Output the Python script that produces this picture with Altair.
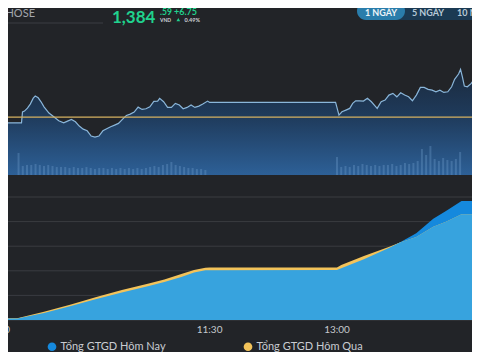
import altair as alt
import pandas as pd
import numpy as np

# ---------------- data ----------------
# VN-Index intraday, x = minutes after 09:00
price_min = [0, 17.1, 17.8, 19.2, 21.3, 23.3, 25.4, 26.8, 28.9, 30.9, 33.0, 36.5, 39.9, 43.4,
             46.9, 49.6, 52.4, 55.2, 57.9, 60.7, 63.5, 66.3, 69.0, 71.8, 74.6, 77.3, 80.1, 82.9,
             85.6, 88.4, 91.2, 93.9, 96.7, 99.5, 102.3, 105.0, 107.8, 110.6, 113.3, 114.7, 117.5,
             120.3, 123.0, 125.8, 128.6, 131.3, 134.1, 136.9, 139.6, 142.4, 145.2, 148.6, 150.0,
             239.0, 241.4, 243.5, 246.3, 249.0, 251.1, 253.2, 255.9, 258.7, 261.5, 264.3, 267.0,
             268.4, 271.2, 274.0, 276.7, 279.5, 282.3, 285.0, 287.8, 290.6, 293.3, 296.1, 298.9,
             301.6, 304.4, 307.2, 309.9, 312.7, 315.5, 318.3, 321.0, 323.1, 325.9, 327.3, 328.6,
             330.0, 332.1, 334.9, 337.7, 345.0]
price_val = [1376.92, 1376.92, 1378.69, 1378.81, 1379.29, 1379.94, 1380.90, 1381.23, 1380.95,
             1380.31, 1379.50, 1378.49, 1377.89, 1377.24, 1376.92, 1377.19, 1377.47, 1377.08,
             1376.39, 1375.90, 1375.63, 1374.78, 1374.61, 1374.78, 1375.63, 1375.95, 1376.28,
             1376.55, 1376.82, 1377.47, 1378.11, 1378.32, 1378.65, 1379.45, 1379.08, 1379.18,
             1379.50, 1380.37, 1380.42, 1380.86, 1380.31, 1379.40, 1379.40, 1380.05, 1379.78,
             1379.18, 1379.40, 1379.78, 1379.40, 1379.61, 1379.94, 1380.42, 1380.21,
             1380.21, 1378.16, 1378.69, 1378.97, 1379.24, 1380.05, 1380.47, 1380.47, 1380.42,
             1380.86, 1380.31, 1379.61, 1379.24, 1380.31, 1380.58, 1381.39, 1381.66, 1381.11,
             1381.76, 1381.39, 1381.11, 1380.47, 1381.39, 1382.63, 1382.63, 1382.31, 1382.19,
             1381.92, 1382.19, 1381.82, 1381.92, 1382.73, 1383.92, 1384.78, 1385.53, 1384.34,
             1382.84, 1382.73, 1383.28, 1384.24, 1384.59]
ref_price = [1377.84]

# traded volume, 3-minute buckets
vol_min = list(range(15, 150, 3)) + list(range(240, 330, 3))
vol_val = [22, 9, 10, 10, 11, 10, 9, 10, 9, 8, 8, 8, 7, 8, 7, 7, 8, 7, 6, 7, 7, 6, 7, 6, 7,
           6, 7, 6, 7, 6, 7, 8, 9, 8, 10, 11, 13, 10, 9, 8, 7, 7, 6, 6, 5,
           18, 8, 9, 8, 10, 9, 11, 10, 9, 10, 9, 10, 10, 11, 9, 10, 12, 11, 12, 14,
           26, 20, 29, 16, 14, 17, 15, 14, 16, 23]

# cumulative traded value (tỷ đồng)
cum_min = [0, 14, 33, 52, 70, 88, 107, 118, 130, 139, 147, 150, 240, 243, 259, 277, 284, 296,
           308, 317, 328, 345]
today = [300, 300, 1420, 2850, 4270, 5590, 6910, 7720, 8740, 9650, 10100, 10120, 10150, 10500,
         12340, 14700, 15710, 17620, 20570, 22150, 24190, 24190]
yesterday = [340, 350, 1690, 3150, 4680, 6100, 7420, 8230, 9350, 10160, 10630, 10650, 10650,
             11200, 13010, 14900, 15710, 16870, 18960, 19980, 21500, 21500]
grid_vals = [0, 5000, 10000, 15000, 20000, 25000]
series_names = ["Tổng GTGD Hôm Nay", "Tổng GTGD Hôm Qua"]

tick_min = [0, 150, 240]
tick_lab = ["09:00", "11:30", "13:00"]

index_name = ["VNINDEX / HOSE"]
price_main = ["1,384"]
price_dec = [".59"]
unit = ["VND"]
change = ["+6.75"]
pct = ["0.49%"]
buttons = ["1 NGÀY", "5 NGÀY", "10 NGÀY"]

# ---------------- styling ----------------
BG = "#222428"
GREEN = "#20d28e"
FONT = "Lato"
LIGHT_BLUE = "#37a3de"
DARK_BLUE = "#1589dd"
YELLOW = "#f3c35a"

x_scale = alt.Scale(domain=[0, 345], range=[-15.7, 482.6])
price_scale = alt.Scale(domain=[1368.5, 1390], range=[167, 33.7], zero=False)
vol_scale = alt.Scale(domain=[0, 40], range=[167, 127])
val_scale = alt.Scale(domain=[0, 25000], range=[312, 189])

X = alt.X("m:Q", scale=x_scale, axis=None)

price_df = pd.DataFrame({"m": price_min, "p": price_val})
vol_df = pd.DataFrame({"m": vol_min, "v": vol_val})

grad = alt.Gradient(
    gradient="linear",
    stops=[alt.GradientStop(color="#1b2a3d", offset=0),
           alt.GradientStop(color="#1f3b5c", offset=0.45),
           alt.GradientStop(color="#2d6097", offset=1)],
    x1=0, x2=0, y1=0, y2=1)

price_area = alt.Chart(price_df).mark_area(color=grad).encode(
    x=X, y=alt.Y("p:Q", scale=price_scale, axis=None), y2=alt.Y2(datum=1368.5))

vol_bars = alt.Chart(vol_df).mark_bar(width=2, color="#7aa8d6", opacity=0.3).encode(
    x=X, y=alt.Y("v:Q", scale=vol_scale, axis=None))

price_line = alt.Chart(price_df).mark_line(color="#8ab6da", strokeWidth=1.2).encode(
    x=X, y=alt.Y("p:Q", scale=price_scale, axis=None))

ref_rule = alt.Chart(pd.DataFrame({"p": ref_price})).mark_rule(
    color="#d6b160", strokeWidth=1.3).encode(y=alt.Y("p:Q", scale=price_scale, axis=None))

# bottom panel
grid = alt.Chart(pd.DataFrame({"v": grid_vals})).mark_rule(color="#3a3c41", strokeWidth=1).encode(
    y=alt.Y("v:Q", scale=val_scale, axis=None))

long_df = pd.DataFrame({
    "m": cum_min + cum_min,
    "v": today + yesterday,
    "s": [series_names[0]] * len(today) + [series_names[1]] * len(yesterday),
})
cum_areas = alt.Chart(long_df).mark_area(opacity=1).encode(
    x=X,
    y=alt.Y("v:Q", scale=val_scale, axis=None, stack=None),
    color=alt.Color("s:N", scale=alt.Scale(domain=series_names, range=[DARK_BLUE, YELLOW]),
                    legend=alt.Legend(title=None, orient="none", legendX=38.5, legendY=333,
                                      direction="horizontal", symbolType="circle",
                                      symbolSize=75, symbolStrokeWidth=0, symbolOpacity=1,
                                      labelFont=FONT, labelFontSize=11, labelColor="#c9ccd2",
                                      labelOffset=3, columnPadding=76, padding=0)),
    detail="s:N")

common_df = pd.DataFrame({"m": cum_min, "v": np.minimum(today, yesterday)})
common_area = alt.Chart(common_df).mark_area(color=LIGHT_BLUE).encode(
    x=X, y=alt.Y("v:Q", scale=val_scale, axis=None))

ticks = alt.Chart(pd.DataFrame({"m": tick_min, "t": tick_lab})).mark_text(
    font=FONT, fontSize=10, color="#c5c8cd", baseline="middle").encode(
    x=X, y=alt.value(322), text="t:N")

# header
def txt(values):
    return alt.Chart(pd.DataFrame({"t": values}))

hdr_name = txt(index_name).mark_text(font=FONT, fontSize=11, color="#a3a7ad", align="right",
                                      baseline="middle").encode(
    x=alt.value(27), y=alt.value(6), text="t:N")
hdr_line = txt(index_name).mark_rule(color="#3a3d42").encode(
    x=alt.value(-8), x2=alt.value(95), y=alt.value(15))
hdr_price = txt(price_main).mark_text(font=FONT, fontSize=17, fontWeight="bold", color=GREEN,
                                       align="left", baseline="middle").encode(
    x=alt.value(104), y=alt.value(9.5), text="t:N")
hdr_dec = txt(price_dec).mark_text(font=FONT, fontSize=8.5, fontWeight="bold", color=GREEN,
                                    align="left", baseline="middle").encode(
    x=alt.value(152), y=alt.value(4), text="t:N")
hdr_unit = txt(unit).mark_text(font=FONT, fontSize=5, fontWeight="bold", color="#d0d3d8",
                                align="left", baseline="middle").encode(
    x=alt.value(152), y=alt.value(11.5), text="t:N")
hdr_chg = txt(change).mark_text(font=FONT, fontSize=9, fontWeight="bold", color=GREEN,
                                 align="left", baseline="middle").encode(
    x=alt.value(166), y=alt.value(4), text="t:N")
hdr_tri = txt(change).mark_point(shape="triangle-up", filled=True, color=GREEN, size=14,
                                  opacity=1).encode(x=alt.value(170.3), y=alt.value(11.7))
hdr_pct = txt(pct).mark_text(font=FONT, fontSize=5.5, fontWeight="bold", color="#d0d3d8",
                              align="left", baseline="middle").encode(
    x=alt.value(176.5), y=alt.value(11.5), text="t:N")

btn_bg = txt(buttons[:1]).mark_rect(color="#1b3a53", cornerRadius=9).encode(
    x=alt.value(349), x2=alt.value(500), y=alt.value(-6), y2=alt.value(12))
btn_active = txt(buttons[:1]).mark_rect(color="#2a7dab", cornerRadius=9).encode(
    x=alt.value(349), x2=alt.value(397), y=alt.value(-6), y2=alt.value(12))
btn1 = txt(buttons[0:1]).mark_text(font=FONT, fontSize=9, fontWeight="bold", color="#eef4f8",
                                    baseline="middle").encode(
    x=alt.value(373), y=alt.value(4.5), text="t:N")
btn2 = txt(buttons[1:2]).mark_text(font=FONT, fontSize=9, fontWeight="bold", color="#b9cad8",
                                    baseline="middle").encode(
    x=alt.value(420), y=alt.value(4.5), text="t:N")
btn3 = txt(buttons[2:3]).mark_text(font=FONT, fontSize=9, fontWeight="bold", color="#b9cad8",
                                    align="left", baseline="middle").encode(
    x=alt.value(449), y=alt.value(4.5), text="t:N")

chart = alt.layer(
    price_area, vol_bars, price_line, ref_rule,
    grid, cum_areas, common_area, ticks,
    hdr_name, hdr_line, hdr_price, hdr_dec, hdr_unit, hdr_chg, hdr_tri, hdr_pct,
    btn_bg, btn_active, btn1, btn2, btn3,
).resolve_scale(y="independent", color="independent").properties(
    width=464, height=344, padding=0, background=BG,
    autosize=alt.AutoSizeParams(type="none"),
).configure_view(stroke=None)

chart.save("out.html", embed_options={"renderer": "svg", "actions": False})
